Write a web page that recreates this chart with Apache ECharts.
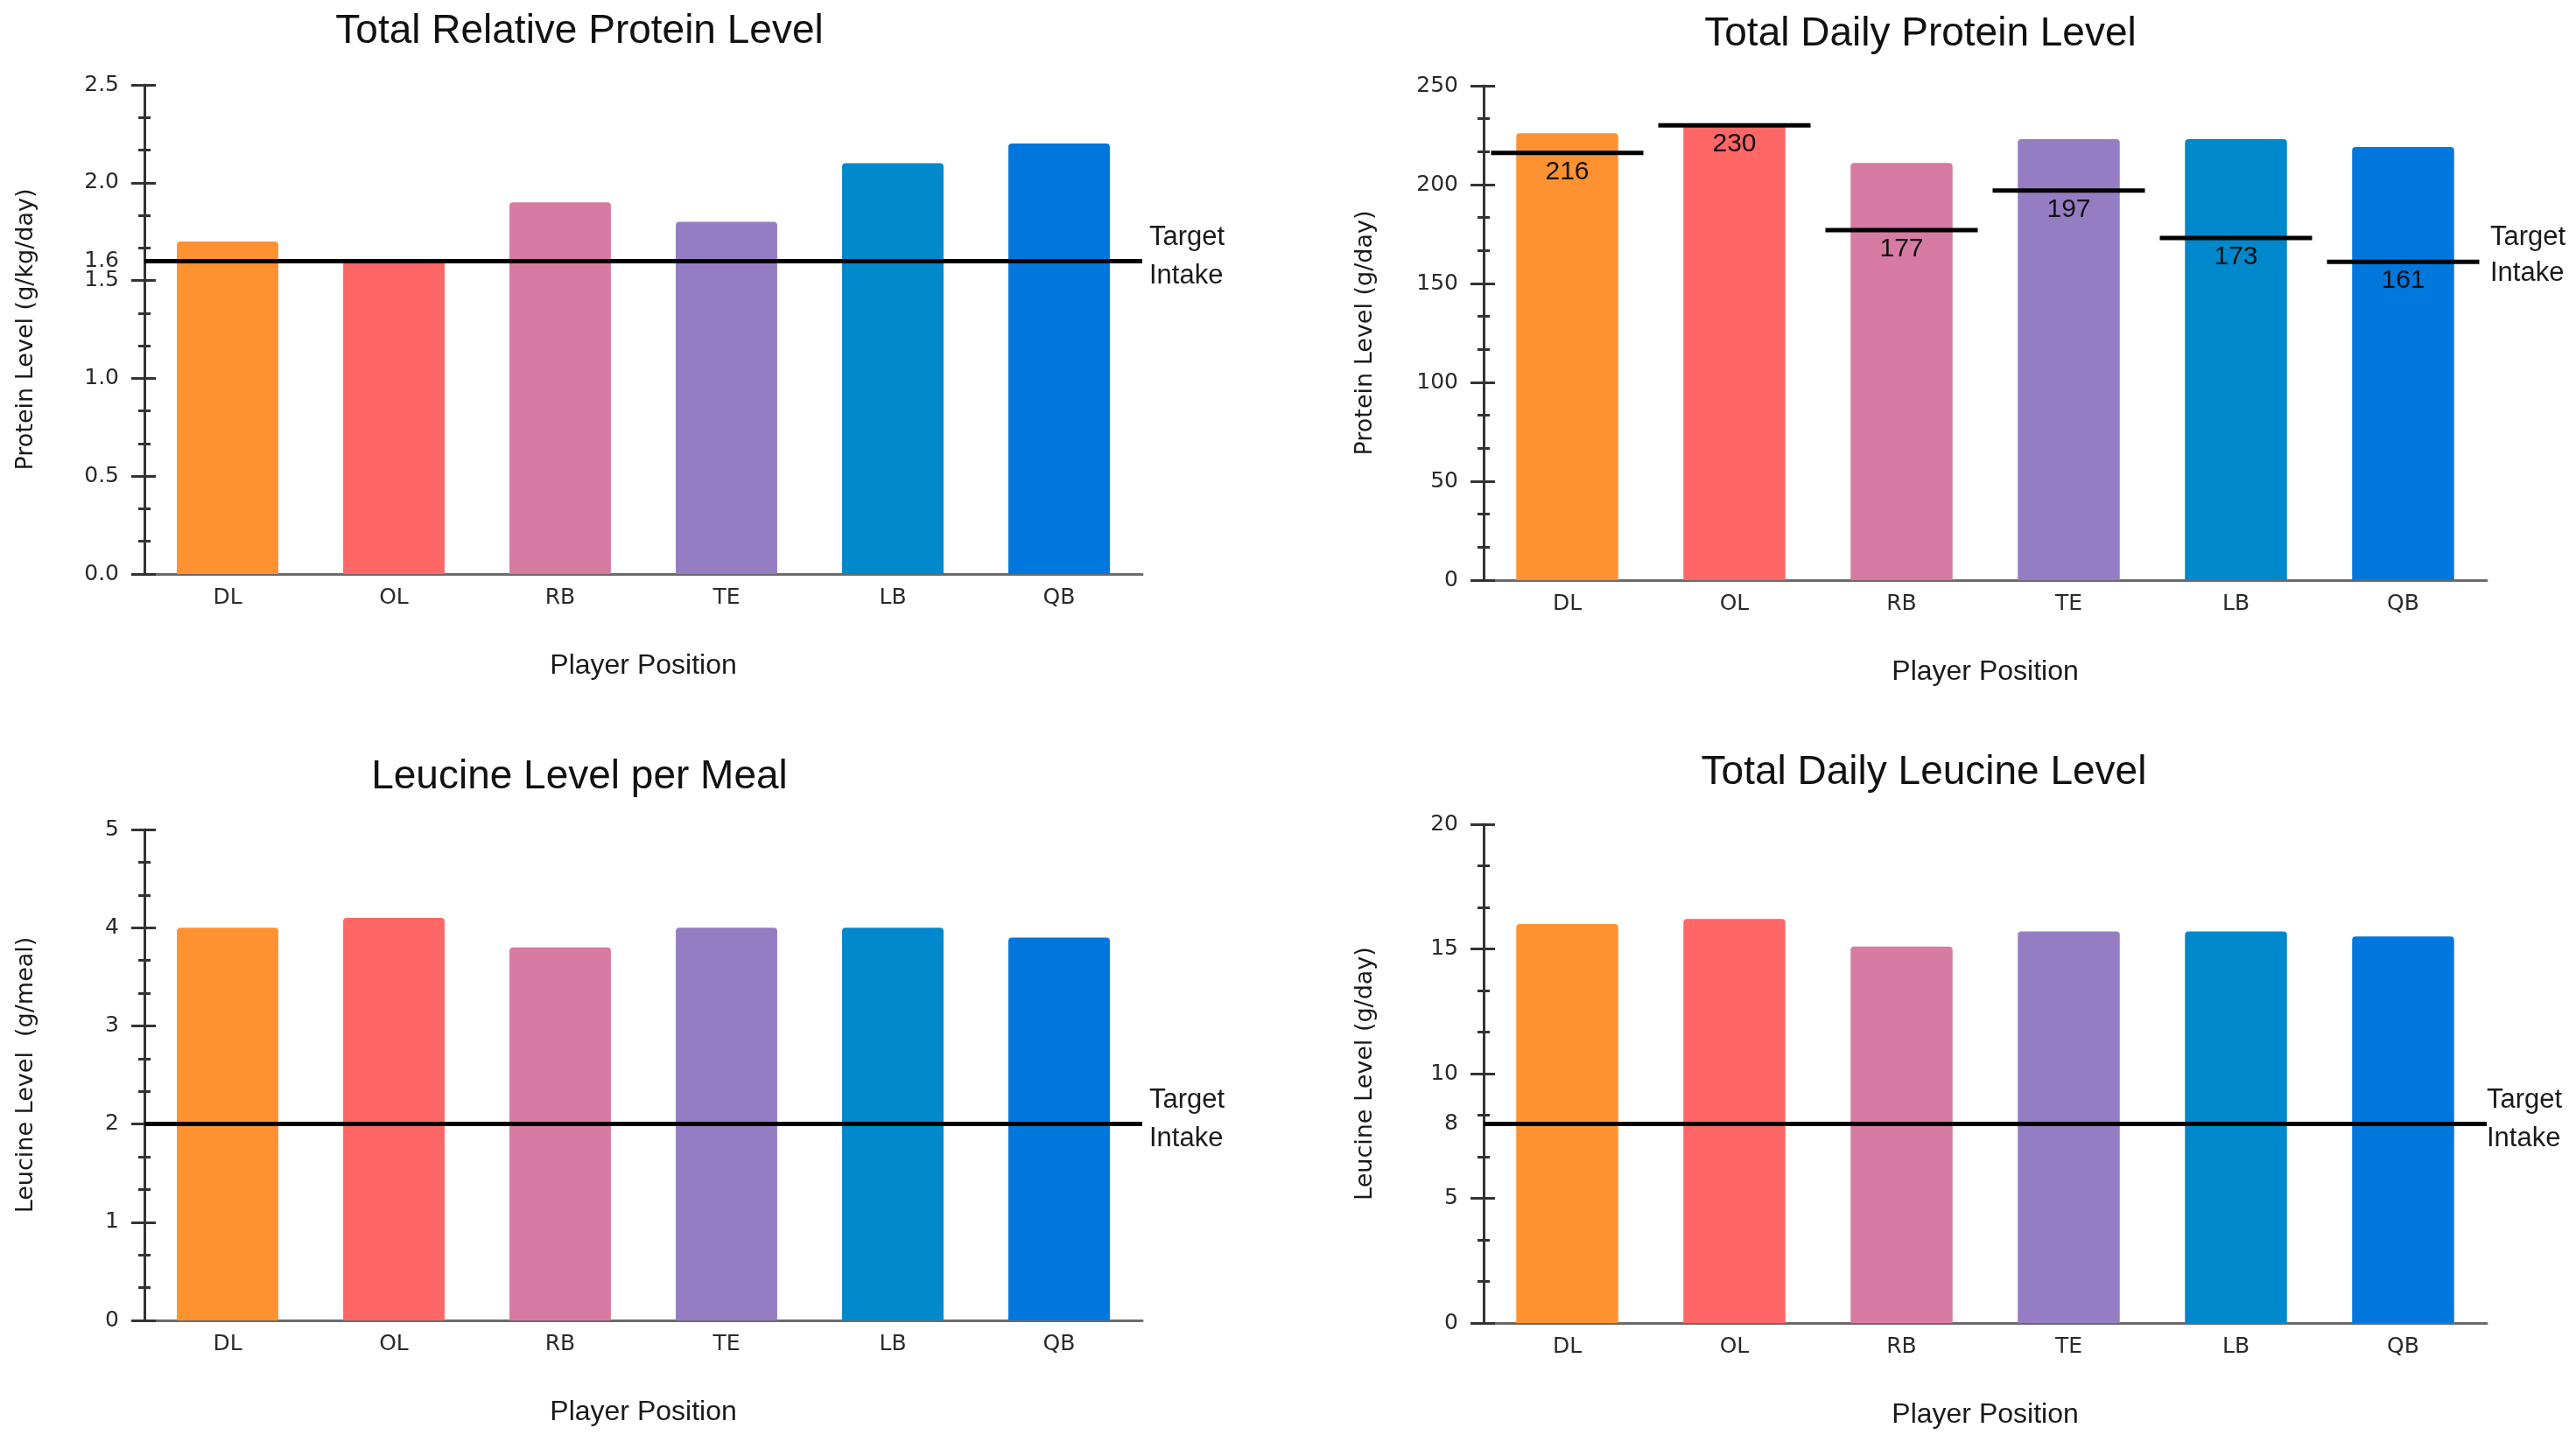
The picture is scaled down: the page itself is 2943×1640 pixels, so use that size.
<!DOCTYPE html>
<html>
<head>
<meta charset="utf-8">
<script src="https://cdn.jsdelivr.net/npm/echarts@6/dist/echarts.min.js"></script>
<style>
html,body{margin:0;padding:0;background:#ffffff;}
#c{width:2943px;height:1640px;}
</style>
</head>
<body>
<div id="c"></div>
<script>
// ---------- data ----------
const categories = ['DL', 'OL', 'RB', 'TE', 'LB', 'QB'];

const relativeProtein = [1.7, 1.6, 1.9, 1.8, 2.1, 2.2];          // g/kg/day
const relativeProteinTarget = 1.6;

const dailyProtein = [226, 230, 211, 223, 223, 219];             // g/day
const dailyProteinTarget = [216, 230, 177, 197, 173, 161];       // g/day per position

const leucinePerMeal = [4.0, 4.1, 3.8, 4.0, 4.0, 3.9];           // g/meal
const leucinePerMealTarget = 2;

const dailyLeucine = [16.0, 16.2, 15.1, 15.7, 15.7, 15.5];       // g/day
const dailyLeucineTarget = 8;

const ticksRelativeProtein = [0, 0.5, 1.0, 1.5, 1.6, 2.0, 2.5];
const ticksDailyProtein = [0, 50, 100, 150, 200, 250];
const ticksLeucinePerMeal = [0, 1, 2, 3, 4, 5];
const ticksDailyLeucine = [0, 5, 8, 10, 15, 20];

const titles = ['Total Relative Protein Level', 'Total Daily Protein Level', 'Leucine Level per Meal', 'Total Daily Leucine Level'];
const yNames = ['Protein Level (g/kg/day)', 'Protein Level (g/day)', 'Leucine Level  (g/meal)', 'Leucine Level (g/day)'];
const xName = 'Player Position';

// ---------- styling / layout ----------
const barColors = ['#FF9230', '#FF6666', '#D77BA3', '#957DC4', '#0088CC', '#0077DD'];
const SANS = '"Liberation Sans", Arial, sans-serif';
const WIDE = '"DejaVu Sans", Verdana, sans-serif';

const grids = [
  {left: 165,  top: 97,  width: 1140, height: 559},
  {left: 1695, top: 98,  width: 1146, height: 565},
  {left: 165,  top: 948, width: 1140, height: 561},
  {left: 1695, top: 942, width: 1146, height: 570}
];
const titlePos = [[657, 5], [2189, 8], [657, 857], [2193, 852]];

const axisSpec = [
  {max: 2.5, interval: 0.5, ticks: ticksRelativeProtein, fmt: v => Number(v).toFixed(1)},
  {max: 250, interval: 50, ticks: ticksDailyProtein, fmt: v => String(v)},
  {max: 5, interval: 1, ticks: ticksLeucinePerMeal, fmt: v => String(v)},
  {max: 20, interval: 5, ticks: ticksDailyLeucine, fmt: v => String(v)}
];

const xAxes = grids.map((g, i) => ({
  type: 'category',
  gridIndex: i,
  data: categories,
  axisLine: {show: true, lineStyle: {color: '#6b6b6b', width: 3}},
  axisTick: {show: false},
  axisLabel: {margin: 15, fontFamily: WIDE, fontSize: 25, color: '#2a2a2a'},
  splitLine: {show: false},
  name: xName,
  nameLocation: 'middle',
  nameGap: 89,
  nameTextStyle: {fontFamily: SANS, fontSize: 32, color: '#1a1a1a'}
}));

const yMain = axisSpec.map((s, i) => ({
  type: 'value',
  gridIndex: i,
  position: 'left',
  min: 0,
  max: s.max,
  interval: s.interval,
  axisLine: {show: true, lineStyle: {color: '#333', width: 3}},
  axisTick: {show: true, length: 15, lineStyle: {color: '#333', width: 3}},
  minorTick: {show: true, splitNumber: 3, length: 7, lineStyle: {color: '#333', width: 3}},
  splitLine: {show: false},
  minorSplitLine: {show: false},
  axisLabel: {customValues: s.ticks, formatter: s.fmt, margin: 29, fontFamily: WIDE, fontSize: 25, color: '#2a2a2a'},
  name: yNames[i],
  nameLocation: 'middle',
  nameGap: 122,
  nameTextStyle: {fontFamily: WIDE, fontSize: 27, color: '#1a1a1a'}
}));

// second axis on the same edge to draw the inner half of the crossing ticks
const yInner = axisSpec.map((s, i) => ({
  type: 'value',
  gridIndex: i,
  position: 'left',
  min: 0,
  max: s.max,
  interval: s.interval,
  axisLine: {show: false},
  axisTick: {show: true, inside: true, length: 13, lineStyle: {color: '#333', width: 3}},
  minorTick: {show: true, splitNumber: 3, length: 7, lineStyle: {color: '#333', width: 3}},
  splitLine: {show: false},
  minorSplitLine: {show: false},
  axisLabel: {show: false}
}));

const targetLabel = {
  show: true,
  position: 'end',
  formatter: 'Target\nIntake',
  distance: 8,
  fontFamily: SANS,
  fontSize: 31,
  lineHeight: 44,
  color: '#1a1a1a',
  offset: [0, -5]
};

function barSeries(i, data, markValue, labelDistance) {
  const s = {
    type: 'bar',
    xAxisIndex: i,
    yAxisIndex: i,
    data: data,
    barWidth: '61%',
    colorBy: 'data',
    itemStyle: {borderRadius: [4, 4, 0, 0]},
    silent: true,
    z: 2
  };
  if (markValue !== null) {
    s.markLine = {
      silent: true,
      symbol: ['none', 'none'],
      lineStyle: {color: '#000', width: 5, type: 'solid'},
      label: Object.assign({}, targetLabel, {distance: labelDistance}),
      data: [{yAxis: markValue}]
    };
  }
  return s;
}

const series = [
  barSeries(0, relativeProtein, relativeProteinTarget, 8),
  barSeries(1, dailyProtein, null, 8),
  {
    type: 'scatter',
    xAxisIndex: 1,
    yAxisIndex: 1,
    data: dailyProteinTarget,
    symbol: 'rect',
    symbolSize: [174, 5],
    itemStyle: {color: '#000', opacity: 1},
    label: {show: true, position: 'bottom', distance: 4, fontFamily: SANS, fontSize: 30, lineHeight: 30, color: '#111'},
    silent: true,
    z: 5
  },
  barSeries(2, leucinePerMeal, leucinePerMealTarget, 8),
  barSeries(3, dailyLeucine, dailyLeucineTarget, 0)
];

const option = {
  animation: false,
  backgroundColor: '#ffffff',
  color: barColors,
  title: titles.map((t, i) => ({
    text: t,
    left: titlePos[i][0],
    top: titlePos[i][1],
    textAlign: 'center',
    textStyle: {fontFamily: SANS, fontSize: 46, fontWeight: 'normal', color: '#111', lineHeight: 52}
  })),
  grid: grids.map(g => Object.assign({outerBoundsMode: 'none', containLabel: false}, g)),
  xAxis: xAxes,
  yAxis: yMain.concat(yInner),
  series: series,
  graphic: [{
    type: 'text',
    left: 2845,
    top: 251,
    silent: true,
    style: {text: 'Target\nIntake', font: '31px "Liberation Sans", Arial, sans-serif', lineHeight: 41, fill: '#1a1a1a'}
  }]
};

const chart = echarts.init(document.getElementById('c'), null, {renderer: 'canvas'});
chart.setOption(option);
</script>
</body>
</html>
